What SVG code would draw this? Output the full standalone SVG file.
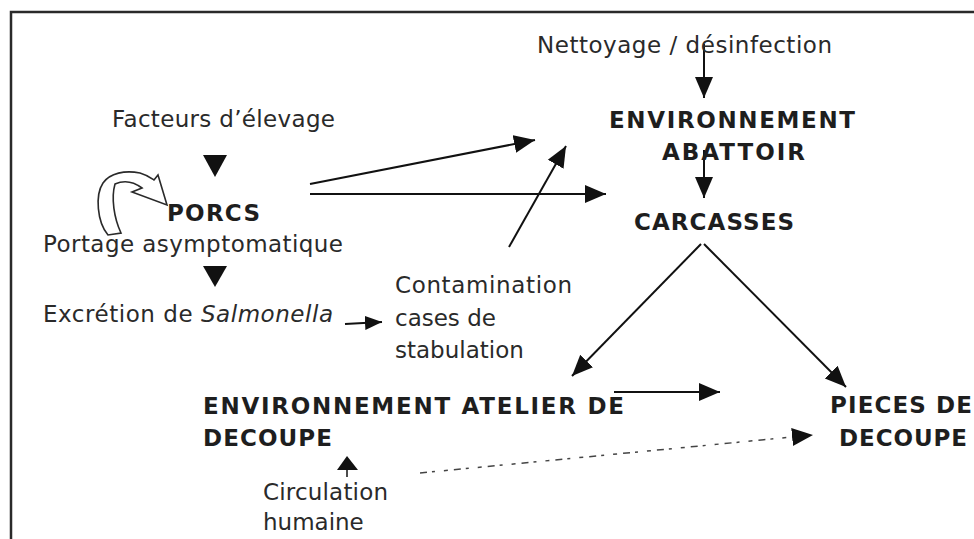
<svg xmlns="http://www.w3.org/2000/svg" width="974" height="539" viewBox="0 0 974 539">
<defs>
<style>
.t{font-family:"DejaVu Sans","Liberation Sans",sans-serif;font-size:23px;fill:#2a2a2a}
.b{font-family:"DejaVu Sans","Liberation Sans",sans-serif;font-size:23px;font-weight:bold;fill:#1e1e1e}
.c{stroke:#111;stroke-width:2;fill:none}
.h{fill:#111}
</style>
<marker id="arr" markerUnits="userSpaceOnUse" markerWidth="22" markerHeight="20" refX="21" refY="10" orient="auto" viewBox="0 0 22 20">
<path d="M0,1 L21,10 L0,19 z" fill="#111"/>
</marker>
<marker id="arrs" markerUnits="userSpaceOnUse" markerWidth="18" markerHeight="16" refX="17" refY="8" orient="auto" viewBox="0 0 18 16">
<path d="M0,1 L17,8 L0,15 z" fill="#111"/>
</marker>
</defs>
<rect width="974" height="539" fill="#fff"/>
<path d="M11,540 L11,12 L975,12" stroke="#2a2a2a" stroke-width="2.5" fill="none"/>

<g id="connectors">
<line class="c" x1="704" y1="44" x2="704" y2="98" marker-end="url(#arr)"/>
<line class="c" x1="704" y1="150" x2="704" y2="198" marker-end="url(#arr)"/>
<polygon class="h" points="203,155 227,155 215,177"/>
<line class="c" x1="310" y1="184" x2="535" y2="140" marker-end="url(#arr)"/>
<line class="c" x1="310" y1="194" x2="606" y2="194" marker-end="url(#arr)"/>
<line class="c" x1="509" y1="247" x2="566" y2="146" marker-end="url(#arr)"/>
<polygon class="h" points="203,266 227,266 215,287"/>
<line class="c" x1="345" y1="324" x2="382" y2="322" marker-end="url(#arrs)"/>
<line class="c" x1="701" y1="244" x2="572" y2="376" marker-end="url(#arr)"/>
<line class="c" x1="704" y1="244" x2="846" y2="387" marker-end="url(#arr)"/>
<line class="c" x1="614" y1="392" x2="720" y2="392" marker-end="url(#arr)"/>
<line x1="347" y1="477" x2="347" y2="466" stroke="#111" stroke-width="1.5"/>
<polygon class="h" points="337,470 358,470 347,456"/>
<line x1="420" y1="473" x2="813" y2="435" stroke="#444" stroke-width="1.5" stroke-dasharray="7 5 3 9 4 6" marker-end="url(#arr)"/>
<path d="M108,235 C97,222 95,195 103,183 C110,173 125,170 140,173 C147,175 151,178 154,180 L158,175 L167,205 L132,192 L142,188 C134,182 124,180 115,184 C111,198 114,218 121,233 Z" fill="#fff" stroke="#2a2a2a" stroke-width="1.6"/>
</g>

<g id="nettoyage"><text class="t" x="537" y="53" textLength="295">Nettoyage / désinfection</text></g>
<g id="env-abattoir">
<text class="b" x="609" y="128" textLength="246">ENVIRONNEMENT</text>
<text class="b" x="662" y="160" textLength="143">ABATTOIR</text>
</g>
<g id="carcasses"><text class="b" x="634" y="230" textLength="160">CARCASSES</text></g>
<g id="facteurs"><text class="t" x="112" y="127" textLength="223">Facteurs d’élevage</text></g>
<g id="porcs"><text class="b" x="167" y="221" textLength="93">PORCS</text></g>
<g id="portage"><text class="t" x="43" y="252" textLength="300">Portage asymptomatique</text></g>
<g id="excretion"><text class="t" x="43" y="322" textLength="290">Excrétion de <tspan font-style="italic">Salmonella</tspan></text></g>
<g id="contamination">
<text class="t" x="395" y="293" textLength="177">Contamination</text>
<text class="t" x="395" y="326">cases de</text>
<text class="t" x="395" y="358">stabulation</text>
</g>
<g id="env-atelier">
<text class="b" x="203" y="414" textLength="421">ENVIRONNEMENT ATELIER DE</text>
<text class="b" x="203" y="446" textLength="129">DECOUPE</text>
</g>
<g id="pieces">
<text class="b" x="830" y="413" textLength="142">PIECES DE</text>
<text class="b" x="839" y="446" textLength="128">DECOUPE</text>
</g>
<g id="circulation">
<text class="t" x="263" y="500" textLength="125">Circulation</text>
<text class="t" x="263" y="530">humaine</text>
</g>
</svg>
